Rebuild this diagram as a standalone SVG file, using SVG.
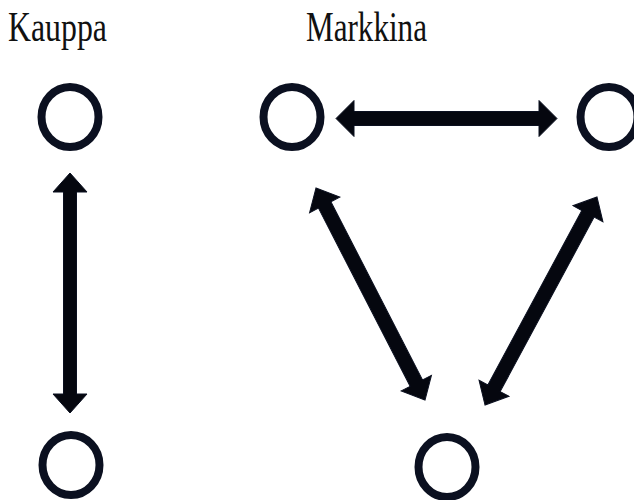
<svg xmlns="http://www.w3.org/2000/svg" width="634" height="500" viewBox="0 0 634 500">
<style>
.t{font-family:"Liberation Serif","Times New Roman",serif;font-size:42px;fill:#111}
.n{fill:none;stroke:#0b1020;stroke-width:8}
.a{fill:#05070f;stroke:#0b1020;stroke-width:1}
</style>
<rect width="634" height="500" fill="#fff"/>
<text class="t" x="8" y="41" textLength="99" lengthAdjust="spacingAndGlyphs">Kauppa</text>
<text class="t" x="306" y="41" textLength="121" lengthAdjust="spacingAndGlyphs">Markkina</text>
<g id="k1"><ellipse class="n" cx="70" cy="117" rx="28.5" ry="30"/></g>
<g id="k2"><ellipse class="n" cx="71" cy="465" rx="28.5" ry="30"/></g>
<g id="m1"><ellipse class="n" cx="292" cy="117" rx="28.5" ry="30"/></g>
<g id="m2"><ellipse class="n" cx="609" cy="117" rx="28.5" ry="30"/></g>
<g id="m3"><ellipse class="n" cx="447" cy="467" rx="28.5" ry="30"/></g>
<g id="connectors">
<polygon class="a" transform="translate(336,118.5)" points="0,0 18,-18 18,-7 203,-7 203,-18 221,0 203,18 203,7 18,7 18,18"/>
<polygon class="a" transform="translate(70,173) rotate(90)" points="0,0 19,-17 19,-6.5 221,-6.5 221,-17 240,0 221,17 221,6.5 19,6.5 19,17"/>
<polygon class="a" transform="translate(316,188) rotate(62.79)" points="0,0 19,-17 19,-7 219.4,-7 219.4,-17 238.4,0 219.4,17 219.4,7 19,7 19,17"/>
<polygon class="a" transform="translate(485,405) rotate(-61.7)" points="0,0 19,-17 19,-7 217.2,-7 217.2,-17 236.2,0 217.2,17 217.2,7 19,7 19,17"/>
</g>
</svg>
